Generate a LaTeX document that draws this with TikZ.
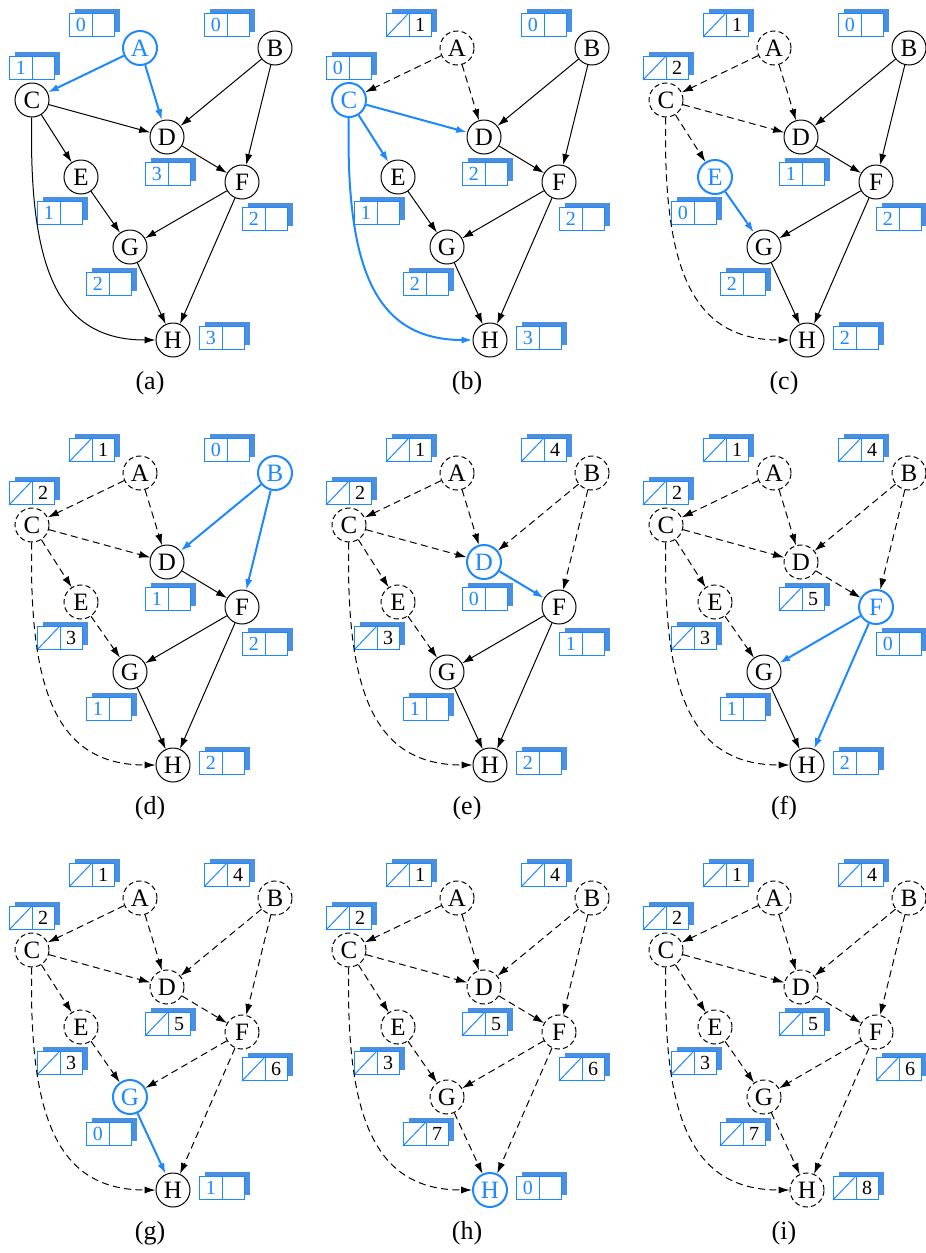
\documentclass[tikz,border=0pt]{standalone}
\usepackage{fontspec}
\setmainfont{Liberation Serif}
\usetikzlibrary{arrows.meta, shadows}
\definecolor{tblue}{HTML}{1E88FF}
\definecolor{tshade}{HTML}{4A8FE0}

\begin{document}
\begin{tikzpicture}[
  x=0.5pt, y=-0.5pt,
  vtx/.style={circle, draw, minimum size=17pt, inner sep=0pt, fill=white,
    font=\fontsize{12.5}{14}\selectfont},
  vtodo/.style={line width=0.5pt},
  vnow/.style={draw=tblue, text=tblue, line width=1pt},
  vdone/.style={line width=0.5pt, dash pattern=on 2.6pt off 1.6pt},
  conn/.style={-{Latex[length=5.5pt, width=3.6pt]}, line width=0.5pt},
  etodo/.style={},
  enow/.style={tblue, line width=1pt},
  edone/.style={dash pattern=on 3.5pt off 2.2pt},
  cbox/.style={draw=tblue, line width=0.6pt, fill=white, minimum width=22.5pt,
    minimum height=11.5pt, inner sep=0pt,
    general shadow={shadow xshift=2.5pt, shadow yshift=2.2pt, fill=tshade}},
  cline/.style={tblue, line width=0.5pt},
  cnt/.style={font=\fontsize{10}{11}\selectfont, text=tblue, inner sep=0pt},
  ordtxt/.style={font=\fontsize{10}{11}\selectfont, inner sep=0pt},
  plabel/.style={font=\fontsize{13}{15}\selectfont}
]
\useasboundingbox (0,0) rectangle (926,1253);

\foreach \k/\lab/\px/\py in {1/a/0/0, 2/b/317/0, 3/c/634/0,
    4/d/0/425, 5/e/317/425, 6/f/634/425,
    7/g/0/850, 8/h/317/850, 9/i/634/850}{
  \begin{scope}[shift={(\px,\py)}, name prefix=\lab-]
    % vertices with their counter boxes
    \foreach \v/\x/\y/\o/\bx/\by/\rem in {
        A/140/48/1/-48/-23/0,
        B/275/48/4/-48/-23/0,
        C/32/100/2/0/-32/{(\k<2)},
        D/167/137/5/1/37/{(\k<2)+(\k<5)+(\k<3)},
        E/81/177/3/-21/36/{(\k<3)},
        F/242/182/6/23/37/{(\k<5)+(\k<6)},
        G/130/247/7/-21/37/{(\k<4)+(\k<7)},
        H/173/340/8/49/-2/{(\k<3)+(\k<7)+(\k<8)}}{
      \ifnum\o<\k \def\vs{vdone}\else\ifnum\o=\k \def\vs{vnow}\else\def\vs{vtodo}\fi\fi
      \node[vtx, \vs] (\v) at (\x,\y) {\v};
      \node[cbox] (\v-box) at (\x+\bx,\y+\by) {};
      \draw[cline] (\v-box.north) -- (\v-box.south);
      \ifnum\o<\k
        \draw[cline] (\v-box.south west) -- (\v-box.north);
        \node[ordtxt] (\v-ord) at ([xshift=5.6pt]\v-box.center) {\o};
      \else
        \pgfmathtruncatemacro\indeg{\rem}
        \node[cnt] (\v-cnt) at ([xshift=-5.6pt]\v-box.center) {\indeg};
      \fi
    }
    % edges, styled by the state of their source
    \foreach \s/\t/\o in {A/C/1, A/D/1, B/D/4, B/F/4, C/D/2, C/E/2,
        D/F/5, E/G/3, F/G/6, F/H/6, G/H/7}{
      \ifnum\o<\k \def\es{edone}\else\ifnum\o=\k \def\es{enow}\else\def\es{etodo}\fi\fi
      \draw[conn, \es] (\s) -- (\t);
    }
    \ifnum2<\k \def\es{edone}\else\ifnum\k=2 \def\es{enow}\else\def\es{etodo}\fi\fi
    \draw[conn, \es] (C) .. controls +(-3,165) and +(-117,0) .. (H);
    \node[plabel] (cap) at (150,383) {(\lab)};
  \end{scope}
}
\end{tikzpicture}
\end{document}
